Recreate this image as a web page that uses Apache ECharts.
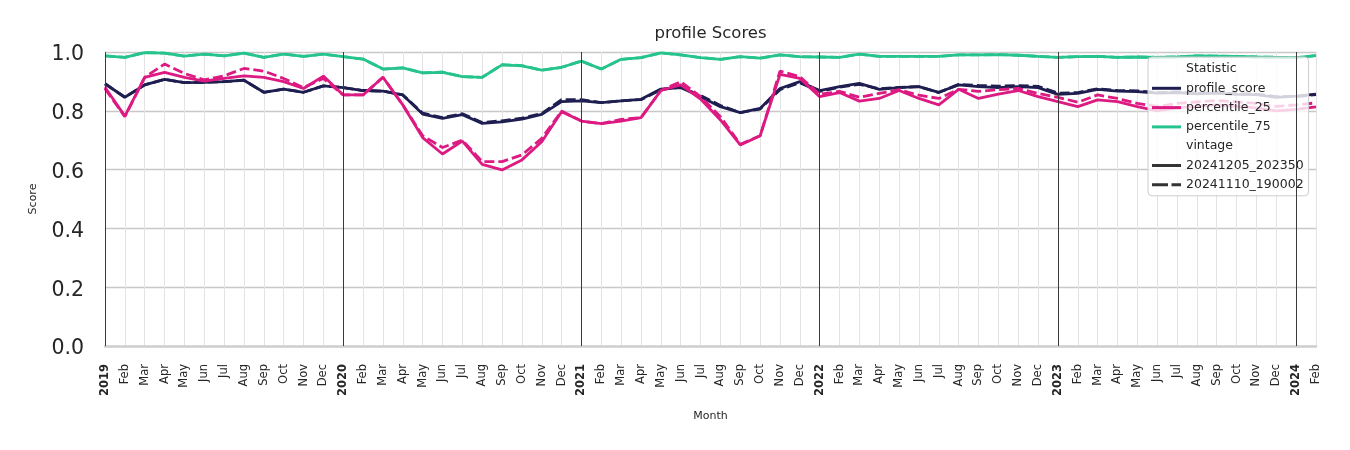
<!DOCTYPE html>
<html>
<head>
<meta charset="utf-8">
<script src="https://cdn.jsdelivr.net/npm/echarts@6/dist/echarts.min.js"></script>
<style>
html,body{margin:0;padding:0;background:#fff;}
#chart{width:1350px;height:450px;}
</style>
</head>
<body>
<div id="chart"></div>
<script>
const months = [
 '2019','Feb','Mar','Apr','May','Jun','Jul','Aug','Sep','Oct','Nov','Dec',
 '2020','Feb','Mar','Apr','May','Jun','Jul','Aug','Sep','Oct','Nov','Dec',
 '2021','Feb','Mar','Apr','May','Jun','Jul','Aug','Sep','Oct','Nov','Dec',
 '2022','Feb','Mar','Apr','May','Jun','Jul','Aug','Sep','Oct','Nov','Dec',
 '2023','Feb','Mar','Apr','May','Jun','Jul','Aug','Sep','Oct','Nov','Dec',
 '2024','Feb'
];
const yTicks = [0, 0.2, 0.4, 0.6, 0.8, 1.0];

// vintage 20241205_202350 (solid)
const profileScoreNew = [
 0.892,0.846,0.888,0.907,0.896,0.897,0.899,0.904,0.863,0.874,0.863,0.885,
 0.879,0.869,0.867,0.854,0.789,0.774,0.787,0.757,0.762,0.772,0.788,0.831,
 0.834,0.828,0.834,0.839,0.874,0.879,0.848,0.814,0.794,0.808,0.876,0.899,
 0.869,0.882,0.893,0.873,0.879,0.882,0.863,0.888,0.882,0.879,0.882,0.879,
 0.856,0.859,0.873,0.867,0.865,0.860,0.862,0.858,0.860,0.856,0.855,0.846,
 0.850,0.857
];
const p25New = [
 0.880,0.782,0.914,0.931,0.914,0.901,0.910,0.919,0.914,0.899,0.876,0.918,
 0.854,0.854,0.914,0.820,0.709,0.653,0.697,0.618,0.599,0.633,0.695,0.797,
 0.765,0.756,0.765,0.777,0.869,0.888,0.840,0.769,0.684,0.715,0.924,0.910,
 0.848,0.862,0.833,0.842,0.869,0.842,0.820,0.873,0.842,0.857,0.869,0.848,
 0.831,0.814,0.837,0.831,0.814,0.800,0.810,0.815,0.820,0.815,0.810,0.800,
 0.805,0.813
];
const p75New = [
 0.987,0.982,0.998,0.996,0.986,0.993,0.987,0.996,0.982,0.993,0.985,0.993,
 0.984,0.976,0.942,0.946,0.929,0.931,0.916,0.914,0.956,0.953,0.938,0.948,
 0.969,0.942,0.975,0.981,0.997,0.990,0.981,0.975,0.984,0.979,0.990,0.984,
 0.983,0.982,0.993,0.985,0.985,0.985,0.985,0.990,0.990,0.991,0.989,0.985,
 0.982,0.984,0.985,0.982,0.983,0.982,0.983,0.987,0.986,0.985,0.983,0.982,
 0.981,0.988
];
// vintage 20241110_190002 (dashed)
const profileScoreOld = [
 0.892,0.846,0.888,0.907,0.896,0.897,0.899,0.904,0.863,0.874,0.863,0.885,
 0.879,0.869,0.867,0.854,0.792,0.777,0.790,0.760,0.766,0.775,0.791,0.838,
 0.838,0.828,0.834,0.838,0.872,0.880,0.852,0.818,0.794,0.806,0.872,0.895,
 0.866,0.880,0.890,0.875,0.880,0.882,0.862,0.890,0.886,0.884,0.886,0.883,
 0.860,0.862,0.875,0.869,0.868,0.862,0.864,0.860,0.862,0.858,0.857,0.848,
 0.848,0.855
];
const p25Old = [
 0.875,0.780,0.914,0.959,0.927,0.905,0.919,0.944,0.935,0.910,0.879,0.910,
 0.854,0.854,0.914,0.820,0.715,0.675,0.700,0.627,0.627,0.650,0.706,0.799,
 0.765,0.756,0.771,0.777,0.869,0.899,0.848,0.780,0.686,0.715,0.935,0.916,
 0.856,0.866,0.846,0.859,0.872,0.853,0.842,0.873,0.866,0.872,0.876,0.859,
 0.846,0.829,0.854,0.842,0.825,0.815,0.825,0.830,0.835,0.830,0.825,0.815,
 0.820,0.827
];
const p75Old = [
 0.987,0.982,0.998,0.996,0.986,0.993,0.987,0.996,0.982,0.993,0.985,0.993,
 0.984,0.976,0.942,0.946,0.929,0.932,0.916,0.914,0.957,0.954,0.938,0.948,
 0.969,0.942,0.975,0.981,0.997,0.990,0.981,0.975,0.984,0.979,0.990,0.984,
 0.983,0.982,0.993,0.985,0.985,0.985,0.985,0.990,0.990,0.991,0.989,0.985,
 0.982,0.984,0.985,0.982,0.983,0.982,0.983,0.987,0.986,0.985,0.983,0.982,
 0.981,0.988
];

const statNames = ['profile_score','percentile_25','percentile_75'];
const vintages = ['20241205_202350','20241110_190002'];
const colors = {profile_score:'#1e1e50', percentile_25:'#dc1a82', percentile_75:'#26c48c'};
const dash = [10, 4];
const textColor = '#262626';
const solidIcon = 'path://M0,0H29V3H0Z';
const dashedIcon = 'path://M0,0H16V3H0Z M19.5,0H29V3H19.5Z';

const yearIdx = months.map((m,i)=>/^\d{4}$/.test(m)?i:-1).filter(i=>i>=0);

function lineSeries(name, data, color, dashed, extra) {
  return Object.assign({
    name: name, type: 'line', data: data, symbol: 'none', showSymbol: false,
    lineStyle: {color: color, width: 2.8, type: dashed ? dash : 'solid', cap: 'butt'},
    itemStyle: {color: color},
    emphasis: {disabled: true}, silent: true
  }, extra || {});
}

const series = [
  lineSeries('profile_score', profileScoreNew, colors.profile_score, false, {
    markLine: {
      silent: true, symbol: 'none', label: {show: false},
      lineStyle: {color: '#3a3a3a', width: 1, type: 'solid'},
      data: yearIdx.map(i => ({xAxis: i}))
    }
  }),
  lineSeries('profile_score ' + vintages[1], profileScoreOld, colors.profile_score, true),
  lineSeries('percentile_25', p25New, colors.percentile_25, false),
  lineSeries('percentile_25 ' + vintages[1], p25Old, colors.percentile_25, true),
  lineSeries('percentile_75', p75New, colors.percentile_75, false),
  lineSeries('percentile_75 ' + vintages[1], p75Old, colors.percentile_75, true),
  lineSeries('Statistic', [], 'rgba(0,0,0,0)', false),
  lineSeries('vintage', [], 'rgba(0,0,0,0)', false),
  lineSeries(vintages[0], [], '#333333', false),
  lineSeries(vintages[1], [], '#333333', true)
];

const legendData = [{name: 'Statistic', icon: solidIcon}]
  .concat(statNames.map(n => ({name: n, icon: solidIcon})))
  .concat([{name: 'vintage', icon: solidIcon}, {name: vintages[0], icon: solidIcon}, {name: vintages[1], icon: dashedIcon}]);

const chart = echarts.init(document.getElementById('chart'), null, {renderer: 'canvas'});
chart.setOption({
  animation: false,
  backgroundColor: '#ffffff',
  title: {
    text: 'profile Scores', left: 710.5, top: 25, textAlign: 'center', padding: 0,
    textStyle: {fontFamily: 'DejaVu Sans', fontSize: 16.5, fontWeight: 'normal', color: textColor}
  },
  grid: {left: 105, right: 34, top: 52, bottom: 104, containLabel: false},
  legend: {
    orient: 'vertical', left: 1148, top: 57,
    padding: [5, 5, 4, 4],
    itemWidth: 29, itemHeight: 14, itemGap: 5.3,
    selectedMode: false,
    backgroundColor: 'rgba(255,255,255,0.8)',
    borderColor: '#cccccc', borderWidth: 1, borderRadius: 4,
    textStyle: {fontFamily: 'DejaVu Sans', fontSize: 12.5, color: textColor, lineHeight: 14},
    data: legendData
  },
  xAxis: {
    type: 'category', data: months, boundaryGap: false,
    name: 'Month', nameLocation: 'middle', nameGap: 65,
    nameTextStyle: {fontFamily: 'DejaVu Sans', fontSize: 11, color: textColor},
    axisLine: {show: true, lineStyle: {color: '#cfcfcf', width: 2.5}},
    axisTick: {show: false},
    axisLabel: {
      interval: 0, rotate: 90, margin: 18,
      fontFamily: 'DejaVu Sans', fontSize: 11.5, color: textColor,
      formatter: v => /^\d{4}$/.test(v) ? '{y|' + v + '}' : v,
      rich: {y: {fontWeight: 'bold', fontFamily: 'DejaVu Sans', fontSize: 11.5, color: textColor}}
    },
    splitLine: {show: true, lineStyle: {color: '#e3e3e3', width: 1}}
  },
  yAxis: {
    type: 'value', min: yTicks[0], max: yTicks[yTicks.length-1], interval: 0.2,
    name: 'Score', nameLocation: 'middle', nameGap: 66,
    nameTextStyle: {fontFamily: 'DejaVu Sans', fontSize: 11, color: textColor},
    axisLine: {show: false}, axisTick: {show: false},
    axisLabel: {
      margin: 21, fontFamily: 'DejaVu Sans', fontSize: 20.5, color: textColor,
      formatter: v => '{t|' + v.toFixed(1) + '}',
      rich: {t: {fontFamily: 'DejaVu Sans', fontSize: 20.5, color: textColor, padding: [6, 0, 0, 0]}}
    },
    splitLine: {show: true, lineStyle: {color: '#c8c8c8', width: 1.3}}
  },
  series: series
});
</script>
</body>
</html>
